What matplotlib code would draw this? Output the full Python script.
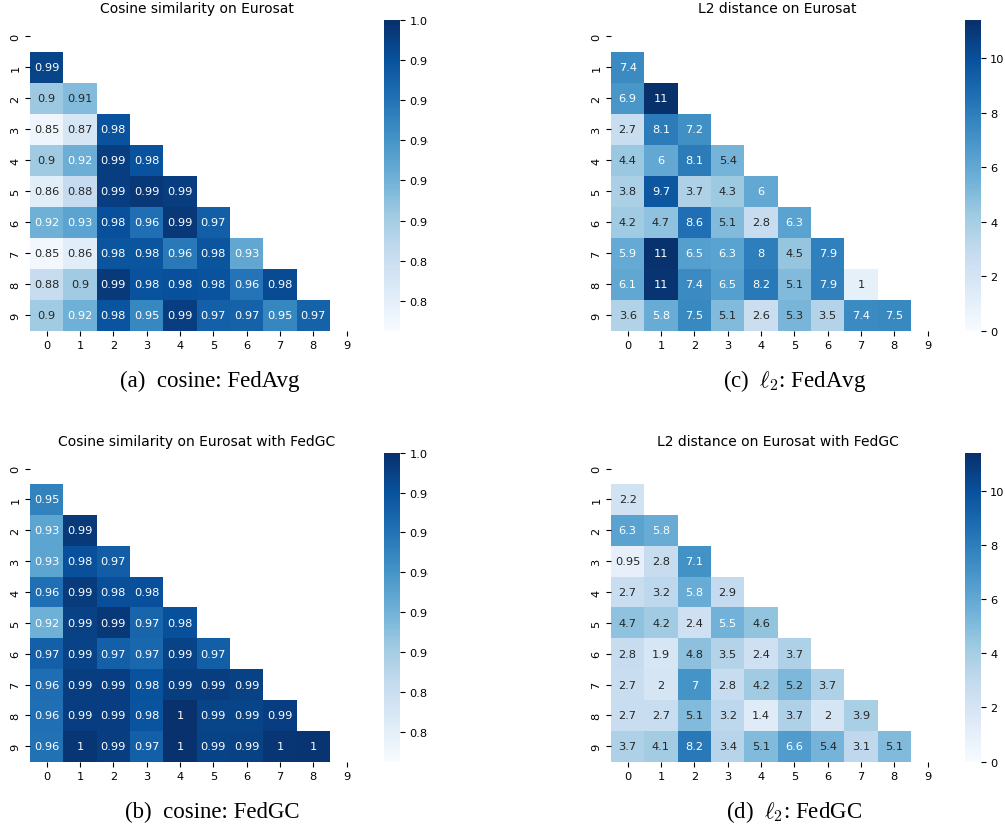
import numpy as np
import matplotlib
matplotlib.use("Agg")
import matplotlib.pyplot as plt
import seaborn as sns
from matplotlib.patches import Rectangle

# lower-triangle rows (row i holds columns 0..i-1), rows 1..9
cos_fedavg = [
    [0.988],
    [0.904, 0.914],
    [0.852, 0.871, 0.980],
    [0.903, 0.922, 0.992, 0.980],
    [0.862, 0.884, 0.991, 0.995, 0.992],
    [0.921, 0.930, 0.981, 0.962, 0.995, 0.972],
    [0.850, 0.862, 0.978, 0.978, 0.957, 0.978, 0.927],
    [0.883, 0.902, 0.994, 0.980, 0.981, 0.980, 0.959, 0.984],
    [0.902, 0.921, 0.979, 0.948, 0.991, 0.971, 0.970, 0.949, 0.970],
]
cos_fedgc = [
    [0.951],
    [0.929, 0.994],
    [0.929, 0.981, 0.973],
    [0.962, 0.993, 0.982, 0.981],
    [0.921, 0.990, 0.995, 0.968, 0.981],
    [0.971, 0.989, 0.971, 0.967, 0.989, 0.972],
    [0.963, 0.992, 0.991, 0.980, 0.992, 0.992, 0.990],
    [0.962, 0.991, 0.991, 0.979, 0.999, 0.988, 0.988, 0.991],
    [0.961, 0.996, 0.992, 0.971, 0.999, 0.989, 0.990, 0.996, 0.997],
]
l2_fedavg = [
    [7.4],
    [6.9, 11.4],
    [2.7, 8.1, 7.2],
    [4.4, 6.0, 8.1, 5.4],
    [3.8, 9.7, 3.7, 4.3, 6.0],
    [4.2, 4.7, 8.6, 5.1, 2.8, 6.3],
    [5.9, 11.3, 6.5, 6.3, 8.0, 4.5, 7.9],
    [6.1, 11.2, 7.4, 6.5, 8.2, 5.1, 7.9, 1.0],
    [3.6, 5.8, 7.5, 5.1, 2.6, 5.3, 3.5, 7.4, 7.5],
]
l2_fedgc = [
    [2.2],
    [6.3, 5.8],
    [0.95, 2.8, 7.1],
    [2.7, 3.2, 5.8, 2.9],
    [4.7, 4.2, 2.4, 5.5, 4.6],
    [2.8, 1.9, 4.8, 3.5, 2.4, 3.7],
    [2.7, 2.0, 7.0, 2.8, 4.2, 5.2, 3.7],
    [2.7, 2.7, 5.1, 3.2, 1.4, 3.7, 2.0, 3.9],
    [3.7, 4.1, 8.2, 3.4, 5.1, 6.6, 5.4, 3.1, 5.1],
]

cos_ticks = [0.86, 0.88, 0.90, 0.92, 0.94, 0.96, 0.98, 1.00]
l2_ticks = [0, 2, 4, 6, 8, 10]

titles = ["Cosine similarity on Eurosat", "L2 distance on Eurosat",
          "Cosine similarity on Eurosat with FedGC", "L2 distance on Eurosat with FedGC"]
captions = ["(a)  cosine: FedAvg", r"(c)  $\ell_2$: FedAvg",
            "(b)  cosine: FedGC", r"(d)  $\ell_2$: FedGC"]


def to_matrix(rows):
    m = np.full((10, 10), np.nan)
    for i, r in enumerate(rows, start=1):
        m[i, :len(r)] = r
    return m


W, H = 1005, 828
fig = plt.figure(figsize=(W / 100, H / 100), dpi=100)
plt.rcParams['mathtext.fontset'] = 'cm'


def px_axes(x0, y0, x1, y1):
    return fig.add_axes([x0 / W, 1 - y1 / H, (x1 - x0) / W, (y1 - y0) / H])


mask = np.triu(np.ones((10, 10), dtype=bool))
panels = [
    (cos_fedavg, 0.845, 1.0, cos_ticks, "{:.2f}", 30, 21.7, 331.7, 384.3),
    (l2_fedavg, 0, 11.4, l2_ticks, "{:d}", 611, 21.7, 331.7, 965),
    (cos_fedgc, 0.845, 1.0, cos_ticks, "{:.2f}", 30, 454.2, 762.7, 384.3),
    (l2_fedgc, 0, 11.4, l2_ticks, "{:d}", 611, 454.2, 762.7, 965),
]
for (rows, vmin, vmax, ticks, fmt, x0, y0, y1, cx), title in zip(panels, titles):
    ax = px_axes(x0, y0, x0 + 333.3, y1)
    cax = px_axes(cx, y0 - 0.5, cx + 15.5, y1)
    sns.heatmap(to_matrix(rows), mask=mask, annot=True, cmap="Blues",
                vmin=vmin, vmax=vmax, ax=ax, cbar_ax=cax,
                annot_kws={"size": 8.2})
    ax.set_title(title, fontsize=10)
    ax.tick_params(labelsize=8.2)
    ax.set_yticklabels(ax.get_yticklabels(), rotation=90, va="center")
    cax.set_yticks(ticks)
    cax.set_yticklabels([fmt.format(t) for t in ticks])
    cax.tick_params(labelsize=8.2)

# cosine colorbar labels are cut off in the original
for y0, y1 in [(10, 345), (440, 775)]:
    fig.add_artist(Rectangle((428 / W, 1 - y1 / H), 60 / W, (y1 - y0) / H,
                             transform=fig.transFigure, color="white", zorder=10))

for cap, (x, y) in zip(captions, [(210, 387.5), (795, 387.5), (212, 818.3), (794, 818.3)]):
    fig.text(x / W, 1 - y / H, cap, ha="center", va="baseline",
             fontsize=16.5, family="Liberation Serif")

fig.savefig("out.png", dpi=100)
